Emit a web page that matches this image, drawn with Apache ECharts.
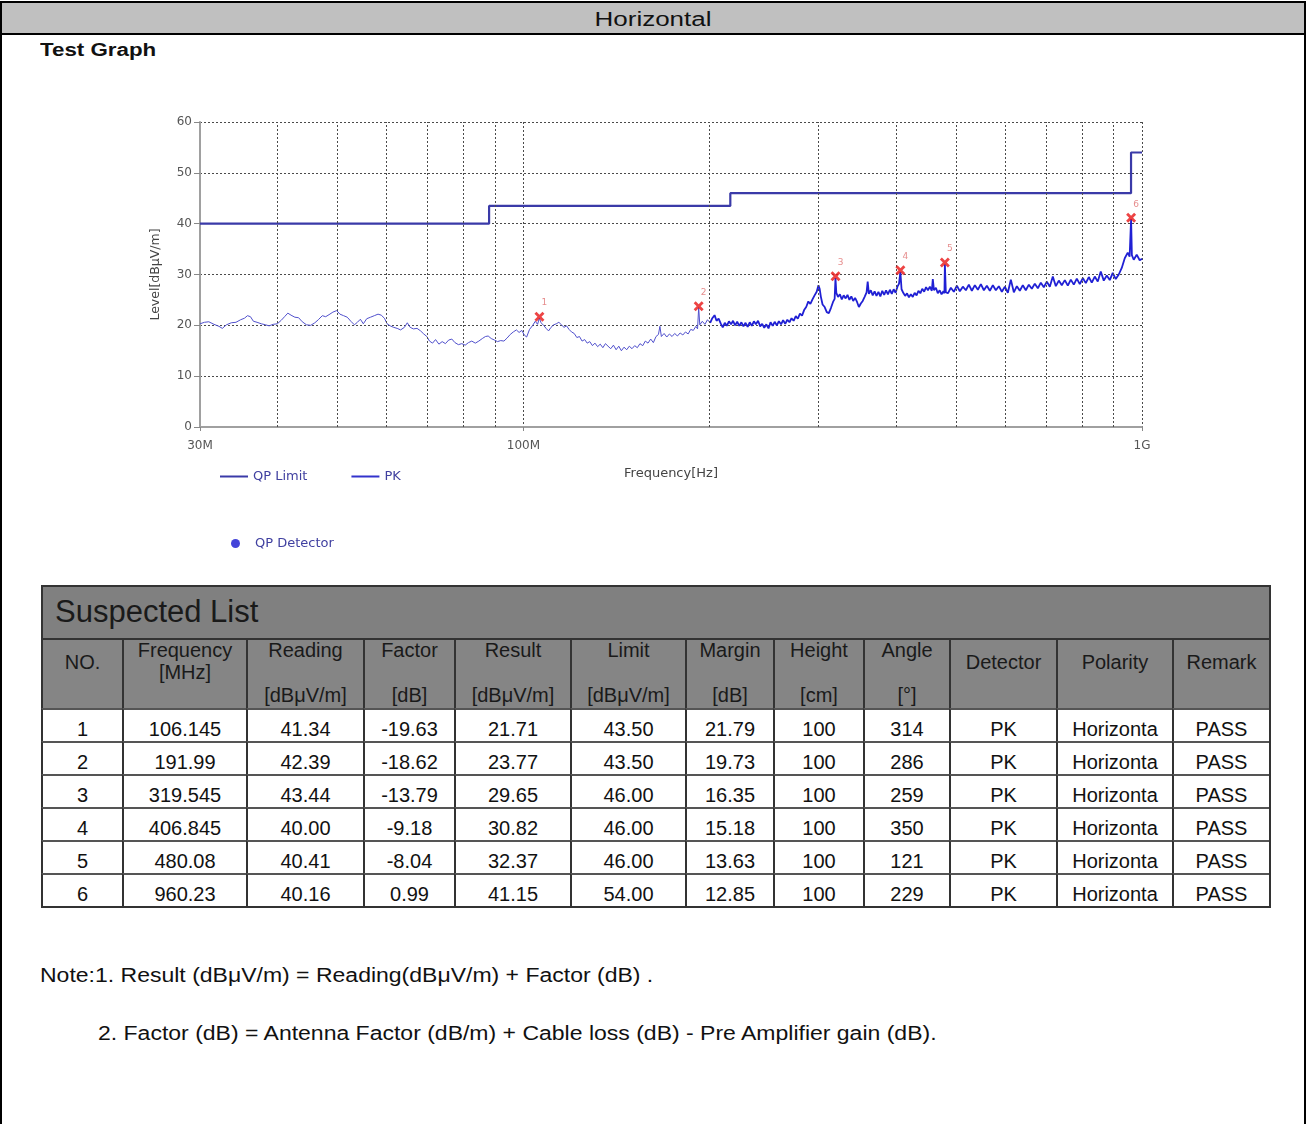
<!DOCTYPE html>
<html>
<head>
<meta charset="utf-8">
<script src="https://cdn.jsdelivr.net/npm/echarts@6/dist/echarts.min.js"></script>
<style>
html,body{margin:0;padding:0;background:#fff;}
body{width:1306px;height:1124px;position:relative;overflow:hidden;font-family:"Liberation Sans",Arial,sans-serif;color:#111;}
#frame{position:absolute;left:0;top:1px;width:1306px;height:1140px;box-sizing:border-box;border:2px solid #000;}
#hdr{position:absolute;left:0;top:0;right:0;height:30px;background:#c0c0c0;border-bottom:2px solid #000;text-align:center;}
#hdr span{display:inline-block;font-size:20px;line-height:32px;transform:scaleX(1.3);}
#tg{position:absolute;left:40px;top:38px;font-weight:bold;font-size:18px;line-height:24px;transform:scaleX(1.24);transform-origin:0 0;white-space:nowrap;}
#chart{position:absolute;left:0;top:70px;width:1306px;height:500px;}
#tbl{position:absolute;left:41px;top:585px;width:1228px;height:321px;border-right:2px solid #333;border-bottom:2px solid #333;}
.c{position:absolute;box-sizing:border-box;border-left:2px solid #333;border-top:2px solid #333;text-align:center;font-size:20px;white-space:nowrap;overflow:hidden;}
.hd{background:#858585;color:#1a1a1a;}
.dt{background:#fff;border-top-color:#555;line-height:24px;padding-top:7px;color:#111;}
.ttl{background:#808080;text-align:left;font-size:31px;line-height:50px;padding-left:12px;color:#1a1a1a;}
.ln{position:absolute;left:0;right:0;line-height:24px;}
.note{position:absolute;font-size:20px;line-height:24px;transform:scaleX(1.15);transform-origin:0 0;white-space:nowrap;color:#111;}
</style>
</head>
<body>
<div id="frame"><div id="hdr"><span>Horizontal</span></div></div>
<div id="tg">Test Graph</div>
<div id="chart"></div>
<div id="tbl"></div>
<div class="note" style="left:40px;top:963px;">Note:1. Result (dBμV/m) = Reading(dBμV/m) + Factor (dB) .</div>
<div class="note" style="left:98px;top:1021px;">2. Factor (dB) = Antenna Factor (dB/m) + Cable loss (dB) - Pre Amplifier gain (dB).</div>
<script>
// ---------- data ----------
const xTickValues = [30, 100, 1000];
const xTickLabels = ['30M', '100M', '1G'];
const gridFreqs = [40, 50, 60, 70, 80, 90, 200, 300, 400, 500, 600, 700, 800, 900];

const limitFreq  = [30, 88, 88, 216, 216, 960, 960, 1000];
const limitLevel = [40, 40, 43.5, 43.5, 46, 46, 54, 54];

// PK trace [MHz, dBuV/m], 30-200 MHz
const pkTraceLow = [
 [30.0,20.3],[30.5,20.6],[31.0,20.7],[31.6,20.2],[32.2,19.8],[32.6,19.4],[33.1,20.1],[33.7,20.5],[34.3,20.6],[34.9,21.1],
 [35.4,21.4],[35.8,21.9],[36.2,21.7],[36.6,20.8],[37.1,20.6],[37.7,20.3],[38.3,20.1],[38.8,19.9],[39.4,20.2],[40.0,20.3],
 [40.6,21.0],[41.1,21.7],[41.6,22.4],[42.1,22.0],[42.7,21.6],[43.3,21.5],[43.9,20.7],[44.6,20.1],[45.3,20.0],[46.0,20.5],
 [46.6,21.1],[47.3,21.9],[47.9,21.7],[48.5,22.1],[49.2,22.6],[49.9,22.9],[50.5,22.2],[51.2,21.9],[51.9,21.6],[52.6,20.8],
 [53.3,20.1],[53.9,20.6],[54.5,21.2],[55.1,20.3],[55.8,21.3],[56.6,21.6],[57.4,21.9],[58.2,22.2],[58.9,22.0],[59.6,21.4],
 [60.2,20.3],[60.9,19.9],[61.7,19.6],[62.5,19.4],[63.3,19.1],[64.2,19.6],[64.9,20.5],[65.6,19.6],[66.4,19.3],[67.3,19.4],
 [68.2,18.9],[69.0,18.3],[69.8,17.8],[70.5,16.9],[71.3,16.5],[72.1,17.2],[73.0,16.3],[73.9,16.8],[74.8,16.4],[75.7,17.1],
 [76.6,17.3],[77.5,16.6],[78.5,16.2],[79.5,16.4],[80.5,16.1],[81.5,16.6],[82.5,16.9],[83.6,16.5],[84.7,16.9],[85.8,17.4],
 [86.8,17.8],[87.7,17.9],[88.7,17.4],[89.8,17.1],[90.8,16.8],[91.9,17.0],[93.0,16.9],[94.1,17.5],[95.2,18.2],[96.3,18.7],
 [97.4,19.1],[98.4,18.6],[99.4,19.0],[100.3,18.1],
 [101.2,17.7],[102.3,19.2],[103.4,19.9],[104.5,20.8],[105.4,20.2],[106.1,21.4],[106.8,20.5],[107.8,20.0],[108.8,19.4],[109.8,18.9],
 [110.8,19.6],[111.9,20.1],[113.0,20.3],[114.1,20.6],[115.2,20.1],[116.3,19.6],[117.4,19.9],[118.5,19.2],[119.6,18.7],[120.8,18.4],
 [122.0,17.6],[123.2,17.8],[124.4,16.9],[125.6,17.2],[126.8,16.5],[128.0,16.8],[129.3,16.0],[130.5,16.5],[131.8,15.8],[133.1,16.3],
 [134.4,15.6],[135.7,16.4],[137.0,15.9],[138.4,15.4],[139.8,16.1],[141.2,15.2],[142.6,15.9],[144.0,15.0],[145.4,15.7],[146.9,15.2],
 [148.3,15.9],[149.8,15.4],[151.3,16.0],[152.8,15.6],[154.3,16.4],[155.9,16.0],[157.4,16.9],[159.0,16.5],[160.6,17.3],[162.2,16.6],
 [163.8,17.8],[165.3,18.2],[166.2,19.8],[167.1,17.8],[168.8,18.4],[170.5,17.7],[172.2,18.3],[173.9,17.8],[175.6,18.4],[177.4,17.9],
 [179.2,18.5],[181.0,18.1],[182.8,18.7],[184.6,18.3],[186.4,19.2],[188.2,19.0],[190.0,19.8],[191.2,19.3],[192.0,23.5],[192.8,20.1],
 [194.6,20.8],[196.5,20.2],[198.4,21.1],[200.4,20.5]
];
// PK trace 200-1000 MHz (dense band)
const pkTraceHigh = [
 [200.4,20.5],
 [202.0,21.4],[203.7,22.0],[205.2,20.9],[206.8,21.3],[208.4,20.4],[210.0,19.6],[211.6,20.5],[213.2,19.9],[214.9,20.8],[216.6,20.2],
 [218.2,20.9],[219.9,20.0],[221.6,20.7],[223.3,19.9],[225.1,20.6],[226.8,19.8],[228.6,20.5],[230.4,19.7],[232.2,20.6],[234.0,19.9],
 [235.8,20.8],[237.6,20.2],[239.5,20.9],[241.4,19.8],[243.2,20.3],[245.1,19.5],[247.0,20.2],[249.0,19.4],[250.9,20.6],[252.9,19.9],
 [254.8,20.7],[256.8,20.0],[258.8,20.8],[260.9,20.2],[262.9,21.0],[265.0,20.3],[267.1,21.1],[269.2,20.6],[271.3,21.4],[273.4,20.9],
 [275.6,21.8],[277.7,21.3],[279.9,22.3],[282.1,21.9],[284.3,23.0],[286.5,23.6],[288.8,24.7],[291.0,24.2],[293.3,25.1],[295.6,25.9],
 [297.9,26.6],[299.9,27.9],[301.2,27.2],[302.6,25.6],[304.5,24.1],[306.9,23.6],[309.3,22.6],[311.7,22.4],[314.1,23.4],[316.6,24.6],
 [318.5,25.2],[319.5,29.3],[320.5,26.4],
 [322.5,25.6],[324.8,26.1],[327.1,25.1],[329.4,25.9],[331.8,25.3],[334.1,26.0],[336.5,25.0],[338.9,25.7],[341.3,24.8],[343.7,25.4],
 [346.2,24.6],[348.6,23.6],[351.1,24.3],[353.6,24.8],[356.1,25.6],[358.7,26.5],[360.2,28.6],[361.8,26.2],[364.4,26.9],[367.0,25.9],
 [369.6,26.7],[372.2,25.8],[374.9,26.6],[377.6,25.7],[380.3,26.8],[383.0,26.0],[385.7,26.9],[388.4,26.1],[391.2,27.0],[394.0,26.2],
 [396.8,27.1],[399.6,26.4],[402.4,27.6],[404.8,28.2],[406.8,30.5],[408.6,27.1],[411.2,26.4],[414.1,25.8],[417.0,26.3],[420.0,25.5],
 [423.0,26.1],[426.0,25.6],[429.0,26.4],[432.1,25.9],[435.1,26.8],[438.2,26.3],[441.3,27.2],[444.5,26.6],[447.6,27.5],[450.8,26.9],
 [454.0,27.6],[457.3,26.8],[459.0,29.1],[461.0,26.9],[464.3,27.4],[467.6,26.3],[470.9,26.9],[474.2,26.1],[477.5,26.7],[479.3,26.3],
 [480.1,32.0],[481.8,26.5],
 [485.5,26.3],[490.9,27.4],[496.4,26.6],[502.0,27.8],[507.6,26.7],[513.3,27.6],[519.1,26.9],[524.9,28.0],[530.8,26.8],[536.8,27.9],
 [542.8,27.0],[548.9,28.1],[555.1,26.9],[561.3,27.8],[567.6,26.8],[574.0,27.9],[580.4,26.9],[586.9,27.7],[593.5,26.6],[600.2,27.6],
 [606.9,26.4],[613.7,29.0],[620.6,26.5],[627.6,27.7],[634.6,26.8],[641.7,27.9],[648.9,26.9],[656.2,28.0],[663.6,27.2],[671.0,28.2],
 [678.6,27.3],[686.2,28.4],[693.9,27.5],[701.7,28.6],[709.5,27.6],[717.5,29.6],[725.6,27.7],[733.7,28.8],[741.9,27.9],[750.3,28.9],
 [758.7,27.8],[767.2,29.0],[775.8,28.0],[784.5,29.2],[793.3,28.1],[802.2,29.3],[811.2,28.3],[820.3,29.5],[829.5,28.4],[838.8,29.6],
 [848.2,28.6],[857.7,30.6],[867.4,28.8],[877.1,29.8],[886.9,28.9],[896.9,30.3],[906.9,29.1],[917.1,30.0],[927.4,31.3],[937.8,33.2],
 [948.3,34.3],[955.0,33.5],[960.2,40.9],[963.0,33.8],[969.7,32.9],[980.5,33.9],[991.5,32.8],[1000,33.1]
];

// Suspected list
const suspectNo       = [1, 2, 3, 4, 5, 6];
const suspectFreq     = [106.145, 191.99, 319.545, 406.845, 480.08, 960.23];
const suspectReading  = [41.34, 42.39, 43.44, 40.00, 40.41, 40.16];
const suspectFactor   = [-19.63, -18.62, -13.79, -9.18, -8.04, 0.99];
const suspectResult   = [21.71, 23.77, 29.65, 30.82, 32.37, 41.15];
const suspectLimit    = [43.50, 43.50, 46.00, 46.00, 46.00, 54.00];
const suspectMargin   = [21.79, 19.73, 16.35, 15.18, 13.63, 12.85];
const suspectHeight   = [100, 100, 100, 100, 100, 100];
const suspectAngle    = [314, 286, 259, 350, 121, 229];
const suspectDetector = ['PK', 'PK', 'PK', 'PK', 'PK', 'PK'];
const suspectPolarity = ['Horizonta', 'Horizonta', 'Horizonta', 'Horizonta', 'Horizonta', 'Horizonta'];
const suspectRemark   = ['PASS', 'PASS', 'PASS', 'PASS', 'PASS', 'PASS'];

// ---------- chart ----------
const chart = echarts.init(document.getElementById('chart'), null, {renderer: 'canvas'});
const chartFont = 'DejaVu Sans';
const gridLine = {color: '#4a4a4a', type: [2, 2], width: 1};
const xLabelMap = {};
xTickValues.forEach((v, i) => { xLabelMap[v] = xTickLabels[i]; });

chart.setOption({
  animation: false,
  backgroundColor: 'transparent',
  textStyle: {fontFamily: chartFont},
  grid: {left: 200, top: 52, width: 942, height: 305, containLabel: false},
  legend: [
    {
      data: [{name: 'QP Limit', icon: 'rect'}, {name: 'PK', icon: 'rect'}],
      left: 215, top: 395, itemWidth: 28, itemHeight: 2, itemGap: 44,
      selectedMode: false,
      textStyle: {fontFamily: chartFont, fontSize: 13, color: '#4040a0'}
    },
    {
      data: [{name: 'QP Detector', icon: 'circle'}],
      left: 226, top: 462, itemWidth: 9, itemHeight: 9,
      selectedMode: false,
      textStyle: {fontFamily: chartFont, fontSize: 13, color: '#4040a0', padding: [0, 0, 0, 10]}
    }
  ],
  xAxis: {
    type: 'log', logBase: 10, min: 30, max: 1000,
    name: 'Frequency[Hz]', nameLocation: 'middle', nameGap: 40,
    nameTextStyle: {fontFamily: chartFont, fontSize: 13, color: '#444'},
    axisLine: {show: true, lineStyle: {color: '#a0a0a0', width: 2}},
    axisTick: {show: true, length: 4, lineStyle: {color: '#888'}},
    axisLabel: {
      show: true, margin: 13, fontFamily: chartFont, fontSize: 12, color: '#555',
      showMinLabel: true, showMaxLabel: true,
      formatter: v => xLabelMap[Math.round(v)] || ''
    },
    splitLine: {show: true, lineStyle: gridLine}
  },
  yAxis: {
    type: 'value', min: 0, max: 60, interval: 10,
    name: 'Level[dBμV/m]', nameLocation: 'middle', nameGap: 38,
    nameTextStyle: {fontFamily: chartFont, fontSize: 12.5, color: '#444'},
    axisLine: {show: true, lineStyle: {color: '#a0a0a0', width: 2}},
    axisTick: {show: true, length: 6, lineStyle: {color: '#888'}},
    axisLabel: {margin: 8, fontFamily: chartFont, fontSize: 12, color: '#555'},
    splitLine: {show: true, lineStyle: gridLine}
  },
  series: [
    {
      name: 'gridlines', type: 'line', data: [], z: 1, silent: true,
      markLine: {
        silent: true, symbol: ['none', 'none'], animation: false,
        label: {show: false},
        lineStyle: gridLine,
        data: gridFreqs.map(f => ({xAxis: f}))
      }
    },
    {
      name: 'QP Limit', type: 'line', z: 3,
      data: limitFreq.map((f, i) => [f, limitLevel[i]]),
      symbol: 'none', lineStyle: {color: '#3a3aa8', width: 2.2}, itemStyle: {color: '#3a3aa8'}
    },
    {
      name: 'PK', type: 'line', z: 4,
      data: pkTraceLow, symbol: 'none', sampling: null,
      lineStyle: {color: '#5050cc', width: 1}, itemStyle: {color: '#3333cc'}
    },
    {
      name: 'PK', type: 'line', z: 4,
      data: pkTraceHigh, symbol: 'none', sampling: null,
      lineStyle: {color: '#2020d4', width: 1.8}, itemStyle: {color: '#3333cc'}
    },
    {
      name: 'QP Detector', type: 'scatter', data: [], itemStyle: {color: '#1515d0'}
    },
    {
      name: 'Suspected', type: 'scatter', z: 6,
      data: suspectFreq.map((f, i) => ({value: [f, suspectResult[i]], no: suspectNo[i]})),
      symbol: 'path://M0,2 L2,0 L5,3 L8,0 L10,2 L7,5 L10,8 L8,10 L5,7 L2,10 L0,8 L3,5 Z',
      symbolSize: 10,
      itemStyle: {color: '#e81515'},
      label: {
        show: true, position: 'top', distance: 4, offset: [5, 0],
        formatter: p => String(p.data.no),
        fontFamily: chartFont, fontSize: 9, color: '#e07070'
      }
    }
  ]
});

// ---------- table ----------
const colX = [0, 81, 205, 322, 413, 529, 644, 732, 822, 908, 1015, 1131, 1228];
const rowY = [0, 53, 123, 156, 189, 222, 255, 288, 321];
const headTop  = ['NO.', 'Frequency', 'Reading', 'Factor', 'Result', 'Limit', 'Margin', 'Height', 'Angle', 'Detector', 'Polarity', 'Remark'];
const headUnit = ['', '[MHz]', '[dBμV/m]', '[dB]', '[dBμV/m]', '[dBμV/m]', '[dB]', '[cm]', '[°]', '', '', ''];
const tbl = document.getElementById('tbl');

function cell(cls, x0, x1, y0, y1, html) {
  const d = document.createElement('div');
  d.className = 'c ' + cls;
  d.style.left = x0 + 'px'; d.style.top = y0 + 'px';
  d.style.width = (x1 - x0) + 'px'; d.style.height = (y1 - y0) + 'px';
  d.innerHTML = html;
  tbl.appendChild(d);
  return d;
}
cell('ttl', 0, 1228, rowY[0], rowY[1], 'Suspected List');
for (let i = 0; i < headTop.length; i++) {
  let html;
  if (!headUnit[i]) {
    html = '<div class="ln" style="top:10px">' + headTop[i] + '</div>';
  } else if (i === 1) {
    html = '<div class="ln" style="top:-2px">' + headTop[i] + '</div><div class="ln" style="top:20px">' + headUnit[i] + '</div>';
  } else {
    html = '<div class="ln" style="top:-2px">' + headTop[i] + '</div><div class="ln" style="top:43px">' + headUnit[i] + '</div>';
  }
  cell('hd', colX[i], colX[i + 1], rowY[1], rowY[2], html);
}
for (let r = 0; r < suspectNo.length; r++) {
  const vals = [
    String(suspectNo[r]), String(suspectFreq[r]), suspectReading[r].toFixed(2), suspectFactor[r].toFixed(2),
    suspectResult[r].toFixed(2), suspectLimit[r].toFixed(2), suspectMargin[r].toFixed(2), String(suspectHeight[r]),
    String(suspectAngle[r]), suspectDetector[r], suspectPolarity[r], suspectRemark[r]
  ];
  for (let i = 0; i < vals.length; i++) {
    cell('dt', colX[i], colX[i + 1], rowY[r + 2], rowY[r + 3], vals[i]);
  }
}
</script>
</body>
</html>
